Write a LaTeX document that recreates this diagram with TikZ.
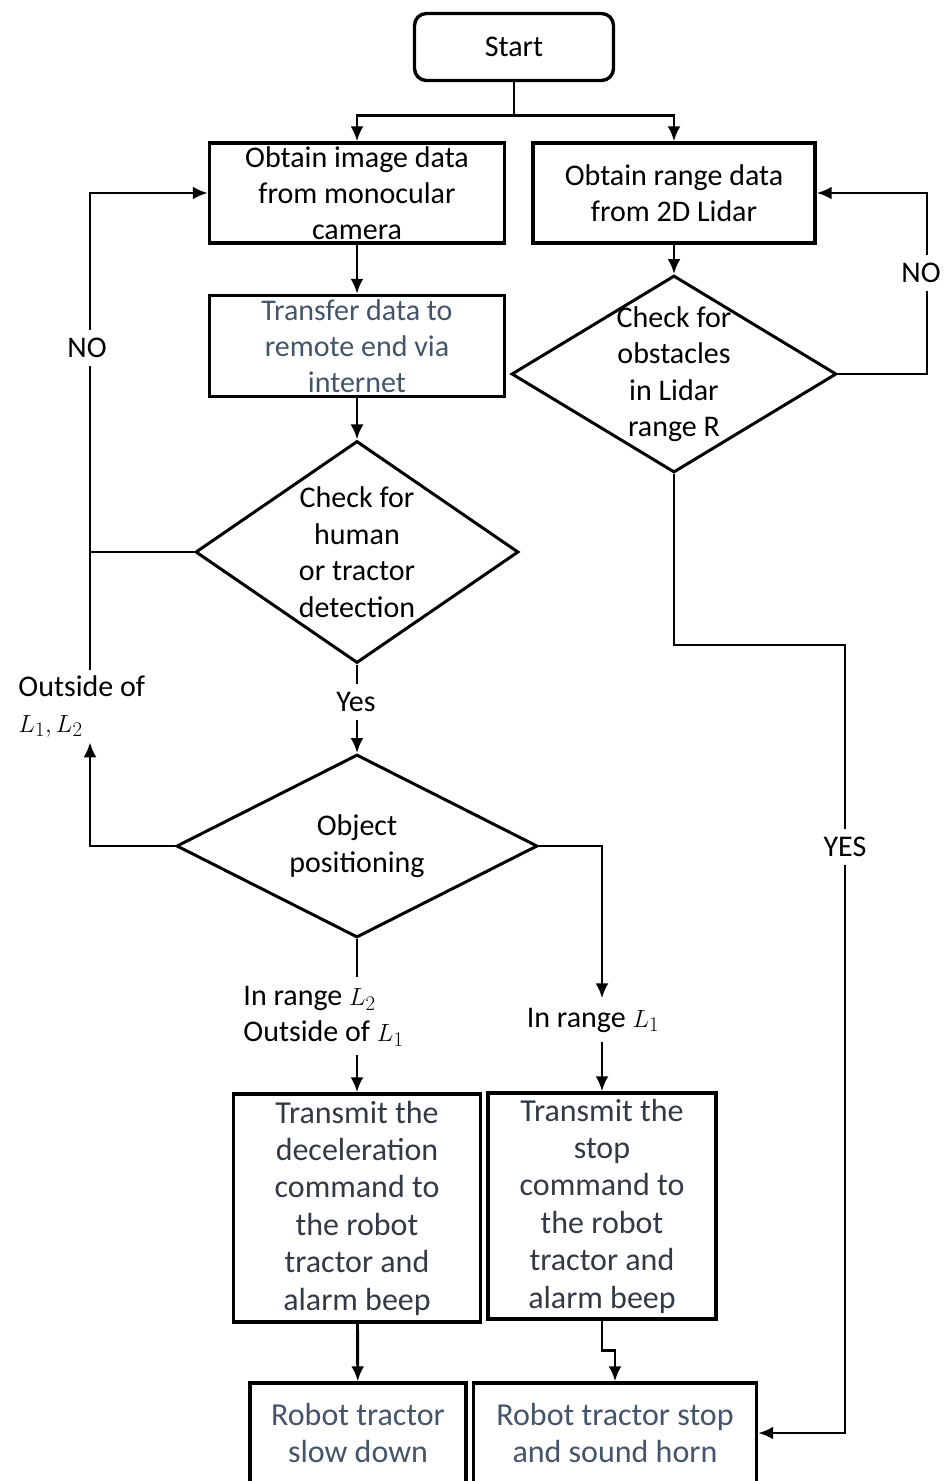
\documentclass[tikz,border=0pt]{standalone}
\usepackage{fontspec}
\setmainfont{Carlito}
\usetikzlibrary{shapes.geometric}
\usetikzlibrary{arrows.meta}
\tikzset{>={Latex[length=15pt,width=13pt]}}
\definecolor{slate}{HTML}{44546A}
\definecolor{darktxt}{HTML}{333A44}

\begin{document}
\begin{tikzpicture}[x=1pt, y=-1pt, line width=2.9pt,
    blk/.style={draw, line width=3.4pt, inner sep=0pt, align=center, font=\fontsize{30}{36}\selectfont},
    dia/.style={draw, diamond, inner sep=0pt, line width=3pt},
    txt/.style={align=center, font=\fontsize{30}{36.5}\selectfont},
    lbl/.style={align=center, font=\fontsize{30}{36}\selectfont, fill=white, inner xsep=4pt, inner ysep=8pt}]
    \clip (0,0) rectangle (943,1481);
    % boxes
    \node[blk, rounded corners=12pt, minimum width=199, minimum height=67] (start) at (514,47) {Start};
    \node[blk, minimum width=295, minimum height=100] (img) at (357,193) {Obtain image data\\from monocular\\camera};
    \node[blk, minimum width=282, minimum height=100] (rng) at (674,193) {Obtain range data\\from 2D Lidar};
    \node[blk, text=slate, minimum width=295, minimum height=101] (xfer) at (357,346) {Transfer data to\\remote end via\\internet};
    \node[dia, minimum width=323, minimum height=222, label={[txt]center:{Check for\\human\\or tractor\\detection}}] (human) at (357,552) {};
    \node[dia, minimum width=325, minimum height=197, label={[txt]center:{Check for\\obstacles\\in Lidar\\range R}}] (lidar) at (674,374) {};
    \node[dia, minimum width=361, minimum height=183, label={[txt]center:{Object\\positioning}}] (obj) at (357,846) {};
    \node[blk, text=darktxt, font=\fontsize{32}{37.4}\selectfont, minimum width=247, minimum height=228] (dec) at (357,1208) {Transmit the\\deceleration\\command to\\the robot\\tractor and\\alarm beep};
    \node[blk, text=darktxt, font=\fontsize{32}{37.4}\selectfont, minimum width=228, minimum height=226] (stop) at (602,1206) {Transmit the\\stop\\command to\\the robot\\tractor and\\alarm beep};
    \node[blk, text=slate, font=\fontsize{32}{37}\selectfont, minimum width=216, minimum height=100] (slow) at (358,1433) {Robot tractor\\slow down};
    \node[blk, text=slate, font=\fontsize{32}{37}\selectfont, minimum width=283, minimum height=100] (horn) at (615,1433) {Robot tractor stop\\and sound horn};
    % branch labels
    \node[lbl, align=left, anchor=west, fill=none, inner ysep=4pt] (outs) at (13,706) {Outside of\\$L_1, L_2$};
    \node[lbl, align=left, anchor=west, fill=none] (inltwo) at (238,1016) {In range $L_2$\\Outside of $L_1$};
    \node[lbl, fill=none] (inlone) at (593,1020) {In range $L_1$};
    \coordinate (lft) at (90,552);
    \coordinate (ybend) at (845,645);
    % connectors
    \draw[->] (start.south) -- ++(0,33) -| (img.north);
    \draw[->] (start.south) ++(0,33) -| (rng.north);
    \draw[->] (img) -- (xfer);
    \draw[->] (xfer) -- (human);
    \draw[->] (rng) -- (lidar);
    \draw (human.west) -- (lft);
    \draw[->] (outs.north -| lft) |- (img.west);
    \draw[->] (obj.west) -| (outs.south -| lft);
    \draw[->] (lidar.east) -- ++(89,0) |- (rng.east);
    \draw[->] (lidar.south) |- (ybend) |- (horn.east);
    \draw[->] (human.south) -- (obj.north);
    \draw[->] (obj.east) -| (inlone.north -| stop.north);
    \draw[->] (inlone.south -| stop.north) -- (stop.north);
    \draw (obj.south) -- (obj.south |- inltwo.north);
    \draw[->] (inltwo.south -| dec.north) -- (dec.north);
    \draw[->] (dec) -- (slow);
    \draw[->] (stop.south) -- ++(0,30) -| (horn.north);
    % labels on the lines
    \node[lbl] (yes) at (356,702) {Yes};
    \node[lbl] (nolft) at (87,348) {NO};
    \node[lbl] (norgt) at (921,273) {NO};
    \node[lbl] (yesrgt) at (845,847) {YES};
\end{tikzpicture}
\end{document}
